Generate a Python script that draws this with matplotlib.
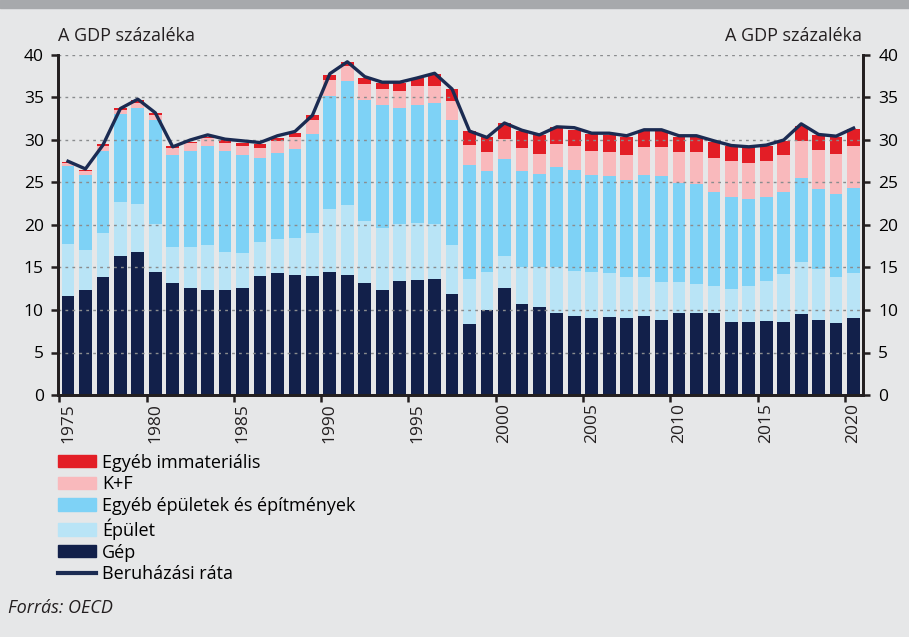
import numpy as np
import matplotlib
matplotlib.use("Agg")
import matplotlib.pyplot as plt
from matplotlib.patches import Patch
from matplotlib.lines import Line2D

plt.rcParams['font.family'] = ['Open Sans', 'DejaVu Sans']

# ---------- adatok (GDP %-a) ----------
evek = list(range(1975, 2021))

gep = [11.7, 12.35, 13.85, 16.3, 16.8, 14.5, 13.2, 12.6, 12.3, 12.3,
       12.6, 14.0, 14.3, 14.1, 14.0, 14.5, 14.1, 13.2, 12.3, 13.4,
       13.5, 13.7, 11.85, 8.3, 10.0, 12.6, 10.75, 10.3, 9.65, 9.35,
       9.05, 9.2, 9.05, 9.35, 8.85, 9.65, 9.65, 9.65, 8.6, 8.6,
       8.75, 8.6, 9.5, 8.85, 8.45, 9.05]

# kumulált felső értékek (a kép alapján)
epulet_top = [17.8, 17.1, 19.0, 22.7, 22.5, 20.1, 17.45, 17.45, 17.7, 16.8,
              16.7, 18.0, 18.35, 18.5, 19.0, 21.9, 22.35, 20.5, 19.7, 20.1,
              20.2, 20.1, 17.6, 13.7, 14.5, 16.35, 15.0, 15.0, 15.0, 14.6,
              14.5, 14.35, 13.85, 13.85, 13.25, 13.25, 13.05, 12.8, 12.5, 12.8,
              13.4, 14.2, 15.7, 14.8, 13.9, 14.35]

egyeb_ep_top = [26.9, 25.9, 28.7, 33.0, 33.8, 32.3, 28.2, 28.7, 29.3, 28.7,
                28.2, 27.9, 28.5, 28.9, 30.75, 35.2, 36.9, 34.75, 34.1, 33.8,
                34.1, 34.4, 32.4, 27.1, 26.35, 27.8, 26.35, 26.0, 26.8, 26.5,
                25.9, 25.75, 25.3, 25.9, 25.75, 24.95, 24.85, 23.9, 23.3, 23.0,
                23.3, 23.9, 25.55, 24.2, 23.7, 24.35]

kf_top = [27.3, 26.4, 29.25, 33.5, 34.4, 32.9, 29.0, 29.6, 30.2, 29.7,
          29.3, 29.1, 29.9, 30.4, 32.3, 37.05, 38.75, 36.6, 36.0, 35.8,
          36.3, 36.4, 34.6, 29.45, 28.55, 30.1, 29.0, 28.4, 29.5, 29.3,
          28.7, 28.55, 28.2, 29.2, 29.2, 28.55, 28.55, 27.9, 27.5, 27.35,
          27.5, 28.25, 29.9, 28.85, 28.4, 29.3]

immat_top = [27.45, 26.5, 29.5, 33.8, 34.7, 33.2, 29.3, 29.8, 30.4, 30.0,
             29.6, 29.5, 30.2, 30.8, 32.9, 37.65, 39.2, 37.3, 36.75, 36.75,
             37.3, 37.8, 36.0, 31.05, 30.3, 31.95, 31.0, 30.55, 31.5, 31.2,
             30.7, 30.55, 30.3, 31.0, 31.0, 30.3, 30.3, 29.75, 29.3, 29.15,
             29.3, 29.9, 31.7, 30.55, 30.4, 31.3]

ber_rata = [27.5, 26.6, 29.4, 33.7, 34.8, 33.2, 29.2, 30.0, 30.6, 30.1,
            29.9, 29.7, 30.5, 31.0, 32.9, 37.8, 39.2, 37.45, 36.8, 36.8,
            37.3, 37.85, 36.0, 31.05, 30.3, 32.0, 31.15, 30.6, 31.55, 31.45,
            30.8, 30.8, 30.5, 31.2, 31.2, 30.5, 30.5, 29.9, 29.35, 29.2,
            29.4, 30.0, 31.9, 30.65, 30.45, 31.4]

# ---------- rajz ----------
szin_gep = '#12204A'
szin_epulet = '#B9E4F6'
szin_egyeb_ep = '#7ED2F6'
szin_kf = '#F9B9BC'
szin_immat = '#E31E26'
szin_vonal = '#1B2B52'
hatter = '#E6E7E8'
sotet = '#231F20'

x = np.array(evek)
gep_a = np.array(gep)
ep_a = np.array(epulet_top) - gep_a
egy_a = np.array(egyeb_ep_top) - np.array(epulet_top)
kf_a = np.array(kf_top) - np.array(egyeb_ep_top)
im_a = np.array(immat_top) - np.array(kf_top)

fig = plt.figure(figsize=(9.09, 6.37), dpi=100, facecolor=hatter)
ax = fig.add_axes([57.7 / 909, 1 - 395 / 637, (863 - 57.7) / 909, 340 / 637])
ax.set_facecolor(hatter)

w = 0.73
ax.bar(x, gep_a, w, color=szin_gep, zorder=1)
ax.bar(x, ep_a, w, bottom=gep_a, color=szin_epulet, zorder=1)
ax.bar(x, egy_a, w, bottom=gep_a + ep_a, color=szin_egyeb_ep, zorder=1)
ax.bar(x, kf_a, w, bottom=gep_a + ep_a + egy_a, color=szin_kf, zorder=1)
ax.bar(x, im_a, w, bottom=gep_a + ep_a + egy_a + kf_a, color=szin_immat, zorder=1)
ax.plot(x, ber_rata, color=szin_vonal, lw=2.4, zorder=4, solid_joinstyle='round')

for v in range(5, 41, 5):
    ax.axhline(v, color='#8A8C8E', lw=1.0, ls=(0, (2, 3)), zorder=2)

ax.set_xlim(1974.41, 2020.54)
ax.set_ylim(0, 40)
ax.set_yticks(range(0, 41, 5))
ax.set_xticks(range(1975, 2021, 5))
ax.set_xticklabels([str(e) for e in range(1975, 2021, 5)], rotation=90)
ax.set_xticks(np.arange(1974.5, 2020, 5), minor=True)
ax.tick_params(axis='x', which='major', length=0, pad=6, labelsize=12.5, colors='#231F20')
ax.tick_params(axis='x', which='minor', length=5, width=1.8, color=sotet, direction='out')
ax.tick_params(axis='y', length=5, width=1.8, color=sotet, pad=5, labelsize=12.5)

ax2 = ax.twinx()
ax2.set_ylim(0, 40)
ax2.set_yticks(range(0, 41, 5))
ax2.tick_params(axis='y', length=5, width=1.8, color=sotet, pad=6, labelsize=12.5)

for a in (ax, ax2):
    a.spines['top'].set_visible(False)
    for s in ('left', 'right', 'bottom'):
        a.spines[s].set_color(sotet)
        a.spines[s].set_linewidth(2)

# felső szürke sáv
fig.patches.append(plt.Rectangle((0, 1 - 8 / 637), 1, 8 / 637, transform=fig.transFigure,
                                 color='#A7A9AC', zorder=0))

fig.text(58 / 909, 1 - 36 / 637, 'A GDP százaléka', fontsize=13, ha='left', va='center', color='#231F20')
fig.text(862 / 909, 1 - 36 / 637, 'A GDP százaléka', fontsize=13, ha='right', va='center', color='#231F20')

kezelok = [Patch(color=szin_immat), Patch(color=szin_kf), Patch(color=szin_egyeb_ep),
           Patch(color=szin_epulet), Patch(color=szin_gep),
           Line2D([0], [0], color=szin_vonal, lw=3)]
cimkek = ['Egyéb immateriális', 'K+F', 'Egyéb épületek és építmények', 'Épület', 'Gép',
          'Beruházási ráta']
fig.legend(kezelok, cimkek, loc='upper left', bbox_to_anchor=(54 / 909, 1 - 450 / 637),
           frameon=False, fontsize=13, handlelength=2.1, handleheight=0.67,
           handletextpad=0.35, labelspacing=0.2, borderaxespad=0, borderpad=0.2)

fig.text(8 / 909, 1 - 608 / 637, 'Forrás: OECD', fontsize=13, style='italic',
         ha='left', va='center', color='#231F20')

fig.savefig('out.png', dpi=100, facecolor=hatter)
